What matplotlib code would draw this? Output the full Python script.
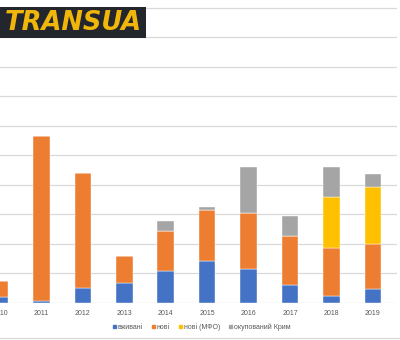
import matplotlib
matplotlib.use("Agg")
import matplotlib.pyplot as plt
from matplotlib.patches import Rectangle, Patch
import numpy as np

years = ["2010", "2011", "2012", "2013", "2014", "2015", "2016", "2017", "2018", "2019"]
used = [89, 26, 247, 328, 532, 708, 572, 299, 116, 225]
new = [283, 2793, 1957, 461, 676, 858, 943, 836, 809, 761]
new_mfo = [0, 0, 0, 0, 0, 0, 0, 0, 863, 972]
crimea = [0, 0, 0, 0, 177, 63, 792, 341, 519, 222]
labels = ["вживані", "нові", "нові (МФО)", "окупований Крим"]
colors = ["#4472C4", "#ED7D31", "#FFC000", "#A5A5A5"]

W, H = 400, 340
fig = plt.figure(figsize=(W / 100, H / 100), dpi=100)
plt.rcParams['font.family'] = ['Liberation Sans', 'DejaVu Sans']

base_px = 302.5
top_px = 5.1
ax = fig.add_axes([0, 1 - base_px / H, 397 / W, (base_px - top_px) / H])
x = np.arange(len(years))
series = [used, new, new_mfo, crimea]
bottom = np.zeros(len(years))
for vals, c, lab in zip(series, colors, labels):
    vals = np.array(vals, dtype=float)
    ax.bar(x, vals, 0.4, bottom=bottom, color=c, label=lab,
           edgecolor="white", linewidth=0.3, zorder=3)
    bottom += vals

ax.set_ylim(0, 5050)
ax.set_xlim(1.6 / 41.6, (397 + 1.6) / 41.6)
for v in range(0, 5001, 500):
    ax.axhline(v, color="#D9D9D9", linewidth=0.9, zorder=1)
for s in ax.spines.values():
    s.set_visible(False)
ax.set_yticks([])
ax.set_xticks(x)
ax.set_xticklabels(years, fontsize=5.0, color="#595959")
ax.tick_params(axis="x", length=0, pad=5.2)
ax.patch.set_alpha(0)

handles = [Patch(color=c) for c in colors]
fig.legend(handles, labels, loc="center", bbox_to_anchor=(201.7 / W, 1 - 327 / H),
           ncol=4, frameon=False, fontsize=5.0, handlelength=0.4, handleheight=0.4,
           handletextpad=0.3, columnspacing=1.3, labelcolor="#595959")

# bottom border line
fig.add_artist(plt.Line2D([0, 1], [1 - 337.5 / H, 1 - 337.5 / H], color="#D9D9D9",
                          linewidth=0.9, transform=fig.transFigure))

# logo
fig.add_artist(Rectangle((0, 1 - 37.7 / H), 146 / W, 30.2 / H, transform=fig.transFigure,
                         facecolor="#24262E", edgecolor="none", zorder=5))
fig.text(73 / W, 1 - 23.5 / H, "TRANSUA", fontsize=18.5, fontweight="bold", style="italic",
         color="#F0B70A", ha="center", va="center", family="DejaVu Sans", zorder=6)

fig.savefig("out.png", dpi=100)
